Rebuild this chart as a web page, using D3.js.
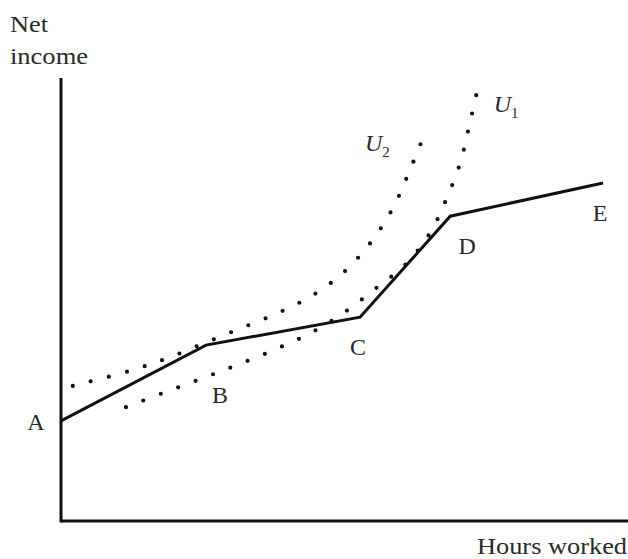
<!DOCTYPE html>
<html>
<head>
<meta charset="utf-8">
<script src="https://cdn.jsdelivr.net/npm/d3@7"></script>
<style>
  html, body { margin: 0; padding: 0; background: #fff; }
  svg text { font-family: "Liberation Serif", "Times New Roman", Times, serif; fill: #2a2a2a; }
</style>
</head>
<body>
<svg id="chart" width="628" height="559"></svg>
<script>
// ---- data (abstract units: hours 0..100, income 0..100) ----
const budgetLabels = ["A", "B", "C", "D", "E"];
const budgetHours  = [0, 25.9, 53.4, 69.5, 96.8];
const budgetIncome = [22.6, 39.7, 46.0, 68.8, 76.3];

const u1Hours  = [11.6, 18.2, 25.0, 31.4, 38.0, 44.5, 50.5, 56.3, 61.6, 65.9, 68.9, 71.4, 73.0, 74.6];
const u1Income = [25.7, 28.9, 32.1, 35.2, 38.6, 42.4, 47.0, 52.6, 58.0, 65.0, 72.9, 81.3, 89.8, 98.6];

const u2Hours  = [2.1, 12.3, 19.1, 25.7, 32.3, 38.8, 45.0, 50.7, 55.5, 59.3, 62.1, 65.0];
const u2Income = [30.5, 33.9, 36.8, 40.2, 43.6, 47.0, 51.0, 56.4, 63.2, 70.7, 78.6, 87.6];

const curveNames = ["1", "2"];
const xTitle = "Hours worked";
const yTitle = ["Net", "income"];

// ---- layout ----
const svg = d3.select("#chart");
const x = d3.scaleLinear().domain([0, 100]).range([61, 621]);
const y = d3.scaleLinear().domain([0, 100]).range([521, 78]);

// axes
svg.append("line").attr("x1", x(0)).attr("x2", 628).attr("y1", y(0)).attr("y2", y(0))
  .attr("stroke", "#111").attr("stroke-width", 3);
svg.append("line").attr("x1", x(0)).attr("x2", x(0)).attr("y1", y(0) + 1.5).attr("y2", y(100))
  .attr("stroke", "#111").attr("stroke-width", 3);

// axis titles
svg.append("text").attr("x", 10).attr("y", 32).attr("font-size", 24)
  .attr("textLength", 38).attr("lengthAdjust", "spacingAndGlyphs").text(yTitle[0]);
svg.append("text").attr("x", 10).attr("y", 64).attr("font-size", 24)
  .attr("textLength", 78).attr("lengthAdjust", "spacingAndGlyphs").text(yTitle[1]);
svg.append("text").attr("x", 477).attr("y", 554).attr("font-size", 24)
  .attr("textLength", 150).attr("lengthAdjust", "spacingAndGlyphs").text(xTitle);

// indifference curves (dotted)
const curveLine = d3.line().x(d => x(d[0])).y(d => y(d[1])).curve(d3.curveCatmullRom.alpha(0.5));
const u1 = d3.zip(u1Hours, u1Income);
const u2 = d3.zip(u2Hours, u2Income);
[u1, u2].forEach(pts => {
  svg.append("path").attr("d", curveLine(pts))
    .attr("fill", "none").attr("stroke", "#111").attr("stroke-width", 4.2)
    .attr("stroke-linecap", "round").attr("stroke-dasharray", "0 18.6");
});

// budget constraint
const budget = d3.zip(budgetHours, budgetIncome);
svg.append("path").attr("d", d3.line().x(d => x(d[0])).y(d => y(d[1]))(budget))
  .attr("fill", "none").attr("stroke", "#111").attr("stroke-width", 3)
  .attr("stroke-linejoin", "miter");

// point labels
const labelOffsets = [[-25, 9], [14, 58], [-2, 38], [17, 38], [-3, 38]];
budget.forEach((p, i) => {
  svg.append("text")
    .attr("x", x(p[0]) + labelOffsets[i][0])
    .attr("y", y(p[1]) + labelOffsets[i][1])
    .attr("text-anchor", "middle").attr("font-size", 24)
    .text(budgetLabels[i]);
});

// curve labels U1, U2
const uAnchors = [u1[u1.length - 1], u2[u2.length - 1]];
const uOffsets = [[15, 28], [-60, 18]];
uAnchors.forEach((p, i) => {
  const t = svg.append("text")
    .attr("x", x(p[0]) + uOffsets[i][0])
    .attr("y", y(p[1]) + uOffsets[i][1])
    .attr("font-size", 24).attr("font-style", "italic");
  t.append("tspan").text("U");
  t.append("tspan").attr("font-size", 15).attr("font-style", "normal").attr("dy", 6).text(curveNames[i]);
});
</script>
</body>
</html>
